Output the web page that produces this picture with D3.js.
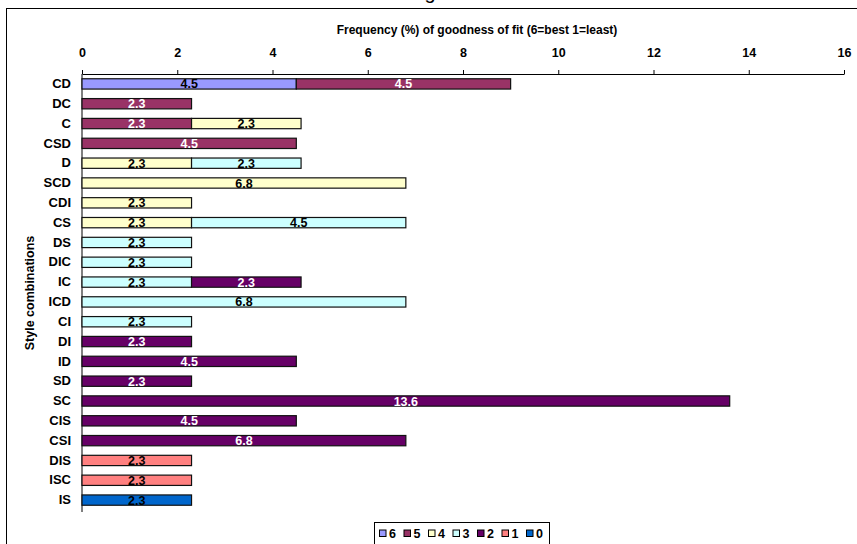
<!DOCTYPE html>
<html>
<head>
<meta charset="utf-8">
<script src="https://cdn.jsdelivr.net/npm/d3@7/dist/d3.min.js"></script>
<style>
  html, body { margin: 0; padding: 0; background: #fff; }
  svg { display: block; font-family: Arial, "Liberation Sans", sans-serif; }
</style>
</head>
<body>
<div id="chart"></div>
<script>
// categories, top to bottom
const categories = ['CD', 'DC', 'C', 'CSD', 'D', 'SCD', 'CDI', 'CS', 'DS', 'DIC', 'IC',
  'ICD', 'CI', 'DI', 'ID', 'SD', 'SC', 'CIS', 'CSI', 'DIS', 'ISC', 'IS'];

// frequency (%) per goodness-of-fit score
const fit6 = [4.5, 0, 0, 0, 0, 0, 0, 0, 0, 0, 0, 0, 0, 0, 0, 0, 0, 0, 0, 0, 0, 0];
const fit5 = [4.5, 2.3, 2.3, 4.5, 0, 0, 0, 0, 0, 0, 0, 0, 0, 0, 0, 0, 0, 0, 0, 0, 0, 0];
const fit4 = [0, 0, 2.3, 0, 2.3, 6.8, 2.3, 2.3, 0, 0, 0, 0, 0, 0, 0, 0, 0, 0, 0, 0, 0, 0];
const fit3 = [0, 0, 0, 0, 2.3, 0, 0, 4.5, 2.3, 2.3, 2.3, 6.8, 2.3, 0, 0, 0, 0, 0, 0, 0, 0, 0];
const fit2 = [0, 0, 0, 0, 0, 0, 0, 0, 0, 0, 2.3, 0, 0, 2.3, 4.5, 2.3, 13.6, 4.5, 6.8, 0, 0, 0];
const fit1 = [0, 0, 0, 0, 0, 0, 0, 0, 0, 0, 0, 0, 0, 0, 0, 0, 0, 0, 0, 2.3, 2.3, 0];
const fit0 = [0, 0, 0, 0, 0, 0, 0, 0, 0, 0, 0, 0, 0, 0, 0, 0, 0, 0, 0, 0, 0, 2.3];

const seriesNames = ['6', '5', '4', '3', '2', '1', '0'];
const seriesValues = [fit6, fit5, fit4, fit3, fit2, fit1, fit0];
const seriesColors = ['#9999FF', '#993366', '#FFFFCC', '#CCFFFF', '#660066', '#FF8080', '#0066CC'];
const labelColors = ['#000', '#fff', '#000', '#000', '#fff', '#000', '#000'];

const xTicks = [0, 2, 4, 6, 8, 10, 12, 14, 16];

const width = 857, height = 544;
const margin = { left: 82, right: 13, top: 74, bottom: 34 };
const FONT = 'Arial, "Liberation Sans", sans-serif';

// build rows for d3.stack
const rows = categories.map((c, i) => {
  const r = { cat: c };
  seriesNames.forEach((s, j) => { r[s] = seriesValues[j][i]; });
  return r;
});
const stacked = d3.stack().keys(seriesNames)(rows);

const svg = d3.select('#chart').append('svg')
  .attr('width', width)
  .attr('height', height);

// chart frame (right and bottom edges run off the page)
svg.append('rect')
  .attr('x', 6.5).attr('y', 8.5)
  .attr('width', 870).attr('height', 560)
  .attr('fill', 'none')
  .attr('stroke', '#000')
  .attr('stroke-width', 1);

// clipped title, only the descender shows
svg.append('text')
  .attr('x', 430).attr('y', -1)
  .attr('text-anchor', 'middle')
  .attr('font-size', 20)
  .text('g');

const x = d3.scaleLinear().domain([0, 16]).range([margin.left, width - margin.right]);
const y = d3.scaleBand().domain(categories)
  .range([margin.top, height - margin.bottom])
  .paddingInner(0.48).paddingOuter(0.24);

// top axis
const xAxis = svg.append('g')
  .attr('transform', `translate(0,${margin.top})`)
  .call(d3.axisTop(x).tickValues(xTicks).tickSize(4).tickPadding(13).tickSizeOuter(0));
xAxis.select('.domain').attr('stroke', '#000');
xAxis.selectAll('text')
  .attr('font-size', 12.5).attr('font-weight', 'bold')
  .attr('font-family', FONT).attr('fill', '#000');

// left axis
const yAxis = svg.append('g')
  .attr('transform', `translate(${margin.left},0)`)
  .call(d3.axisLeft(y).tickSize(0).tickPadding(11));
yAxis.select('.domain').attr('d', `M0,${margin.top}V${height - margin.bottom + 2}`).attr('stroke', '#000');
yAxis.selectAll('text')
  .attr('font-size', 13).attr('font-weight', 'bold')
  .attr('font-family', FONT).attr('fill', '#000');

// axis titles
svg.append('text')
  .attr('x', 477).attr('y', 34)
  .attr('text-anchor', 'middle')
  .attr('font-size', 12).attr('font-weight', 'bold')
  .text('Frequency (%) of goodness of fit (6=best 1=least)');

svg.append('text')
  .attr('transform', `translate(34,293) rotate(-90)`)
  .attr('text-anchor', 'middle')
  .attr('font-size', 12.5).attr('font-weight', 'bold')
  .text('Style combinations');

// bars
const layers = svg.append('g').selectAll('g')
  .data(stacked)
  .enter().append('g')
  .attr('fill', (d, i) => seriesColors[i]);

layers.selectAll('rect')
  .data(d => d.filter(p => p[1] - p[0] > 0))
  .enter().append('rect')
  .attr('x', d => x(d[0]))
  .attr('y', d => y(d.data.cat))
  .attr('width', d => x(d[1]) - x(d[0]))
  .attr('height', y.bandwidth())
  .attr('stroke', '#111')
  .attr('stroke-width', 1.2);

// data labels
stacked.forEach((layer, i) => {
  svg.append('g').selectAll('text')
    .data(layer.filter(p => p[1] - p[0] > 0))
    .enter().append('text')
    .attr('x', d => x((d[0] + d[1]) / 2))
    .attr('y', d => y(d.data.cat) + y.bandwidth() / 2 + 4.5)
    .attr('text-anchor', 'middle')
    .attr('font-size', 12.5).attr('font-weight', 'bold')
    .attr('fill', labelColors[i])
    .text(d => d3.format('.1f')(d[1] - d[0]));
});

// legend
const legend = svg.append('g').attr('transform', 'translate(374.5,522.5)');
legend.append('rect')
  .attr('width', 175).attr('height', 30)
  .attr('fill', '#fff').attr('stroke', '#000');
const item = legend.selectAll('g.item')
  .data(seriesNames)
  .enter().append('g')
  .attr('class', 'item')
  .attr('transform', (d, i) => `translate(${5 + i * 24.5},0)`);
item.append('rect')
  .attr('x', 0).attr('y', 7.5)
  .attr('width', 6.5).attr('height', 6.5)
  .attr('fill', (d, i) => seriesColors[i])
  .attr('stroke', '#000');
item.append('text')
  .attr('x', 9.5).attr('y', 15.5)
  .attr('font-size', 12.5).attr('font-weight', 'bold')
  .text(d => d);
</script>
</body>
</html>
